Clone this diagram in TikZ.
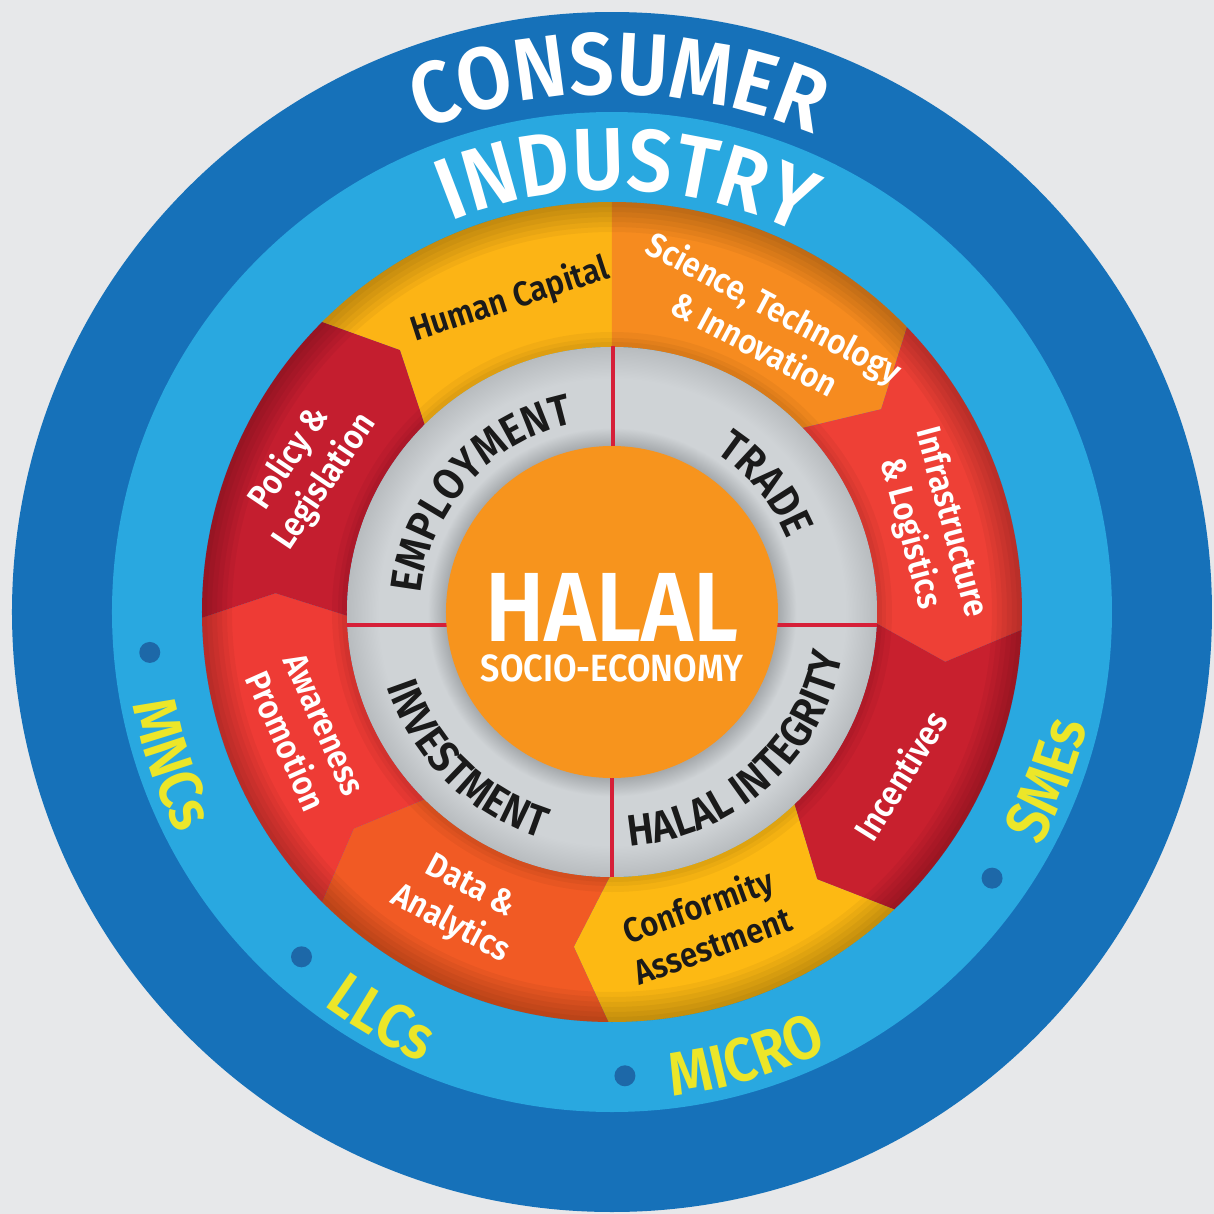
\documentclass[tikz,border=0pt]{standalone}
\usepackage{fontspec}
\setmainfont{Fira Sans}[FakeStretch=0.9,BoldFont={Fira Sans SemiBold}]
\usetikzlibrary{positioning,decorations.text}
\definecolor{BgGray}{HTML}{E7E8EA}
\definecolor{RingDark}{HTML}{1671B9}
\definecolor{RingLight}{HTML}{29A8E0}
\definecolor{DotBlue}{HTML}{1D68A8}
\definecolor{SizeYellow}{HTML}{ECE629}
\definecolor{CoreOrange}{HTML}{F7941D}
\definecolor{HumanYel}{HTML}{FCB415}
\definecolor{SciOrange}{HTML}{F68B1F}
\definecolor{InfraRed}{HTML}{EE4036}
\definecolor{IncRed}{HTML}{C8202E}
\definecolor{ConfYel}{HTML}{FDB913}
\definecolor{DataOrange}{HTML}{F15A24}
\definecolor{AwareRed}{HTML}{EE3B35}
\definecolor{PolicyRed}{HTML}{C41E2F}
\definecolor{GrayDeep}{HTML}{A6AAAD}
\definecolor{GrayLite}{HTML}{CFD3D6}
\definecolor{GrayEdge}{HTML}{B8BCBF}
\definecolor{DivRed}{HTML}{D61F38}
\definecolor{InkBlack}{HTML}{1A1A1A}
\pgfdeclareradialshading{grayring}{\pgfpointorigin}{color(0bp)=(GrayDeep); color(15.7bp)=(GrayDeep); color(17.4bp)=(GrayLite); color(22bp)=(GrayLite); color(25bp)=(GrayEdge); color(50bp)=(GrayEdge)}
\newcommand\ringbig{\fontsize{25}{25}\selectfont\bfseries}
\newcommand\ringsize{\fontsize{17.5}{17.5}\selectfont\bfseries}
\newcommand\ringpillar{\fontsize{12.5}{12.5}\selectfont\bfseries}

\begin{document}
\begin{tikzpicture}[
  seglabel/.style={font=\fontsize{9.8}{12}\selectfont\bfseries,align=center,inner sep=0pt},
  ringtext/.style 2 args={decorate,decoration={text along path,text align=center,text color=#1,text={#2}}}]
\useasboundingbox (-6.12,-6.02) rectangle (6.02,6.12);
\fill[BgGray] (-6.12,-6.02) rectangle (6.02,6.12);
\fill[RingDark] (0,0) circle (6);
\fill[RingLight] (0,0) circle (5);
\foreach \a in {185,228,271.6,325} \fill[DotBlue] (\a:4.64) circle (0.105);
\path[ringtext={white}{|\ringbig|CONSUMER}] (125:5.18) arc[start angle=125,end angle=53.6,radius=5.18];
\path[ringtext={white}{|\ringbig|INDUSTRY}] (124:4.22) arc[start angle=124,end angle=52,radius=4.22];
\path[ringtext={SizeYellow}{|\ringsize|MNCs}] (179:4.88) arc[start angle=179,end angle=219,radius=4.88];
\path[ringtext={SizeYellow}{|\ringsize|LLCs}] (220.5:4.88) arc[start angle=220.5,end angle=260.5,radius=4.88];
\path[ringtext={SizeYellow}{|\ringsize|MICRO}] (266.7:4.88) arc[start angle=266.7,end angle=306.7,radius=4.88];
\path[ringtext={SizeYellow}{|\ringsize|SMEs}] (319:4.88) arc[start angle=319,end angle=359,radius=4.88];
\foreach \a/\b/\ta/\tb/\col in {135/90/6/0/HumanYel,90/44/0/7/SciOrange,44/-2.5/7/6/InfraRed,-2.5/-46.5/6/6/IncRed,-46.5/-90.5/6/6/ConfYel,-90.5/-135/6/5/DataOrange,-135/-179.2/5/4/AwareRed,180.8/135/4/6/PolicyRed}
  \fill[\col] (\a:4.1) arc[start angle=\a,end angle=\b,radius=4.1] -- ({\b-\tb}:3.37) -- (\b:2.65) arc[start angle=\b,end angle=\a,radius=2.65] -- ({\a-\ta}:3.37) -- cycle;
\foreach \r in {3.80,3.85,3.90,3.95,4.00,4.05} \fill[black,opacity=.04,even odd rule] (0,0) circle (4.1) (0,0) circle (\r);
\foreach \r in {2.70,2.74,2.80} \fill[black,opacity=.04,even odd rule] (0,0) circle (\r) (0,0) circle (2.65);
\node[seglabel,text=InkBlack,rotate=18] (hc) at (-1.02,3.12) {Human Capital};
\node[seglabel,text=white,rotate=-28] (sti) at (1.53,2.87) {Science, Technology\\\& Innovation};
\node[seglabel,text=white,rotate=-75] (infra) at (3.18,0.84) {Infrastructure\\\& Logistics};
\node[seglabel,text=white,rotate=58] (incent) at (2.88,-1.63) {Incentives};
\node[seglabel,text=InkBlack,rotate=20] (conf) at (0.93,-3.13) {Conformity\\Assestment};
\node[seglabel,text=white,rotate=-28] (data) at (-1.52,-2.94) {Data \&\\Analytics};
\node[seglabel,text=white,rotate=-66] (aware) at (-3.07,-1.21) {Awareness\\Promotion};
\node[seglabel,text=white,rotate=56] (policy) at (-3.05,1.42) {Policy \&\\Legislation};
\shade[shading=grayring] (0,0) circle (2.65);
\draw[DivRed,line width=1.2pt] (0.01,1.64) -- (0.01,2.66) (0,-1.64) -- (0,-2.65) (-2.65,-0.13) -- (-1.64,-0.13) (1.64,-0.13) -- (2.65,-0.13);
\fill[CoreOrange] (0,0) circle (1.66);
\node[font=\fontsize{28}{28}\selectfont\bfseries,text=white,inner sep=0pt] (halal) at (0,0.05) {HALAL};
\node[font=\fontsize{10.8}{10.8}\selectfont\bfseries,text=white,inner sep=0pt,below=0.12cm of halal] (socio) {SOCIO-ECONOMY};
\path[ringtext={InkBlack}{|\ringpillar|EMPLOYMENT}] (178:1.92) arc[start angle=178,end angle=98,radius=1.92];
\path[ringtext={InkBlack}{|\ringpillar|TRADE}] (79.7:1.90) arc[start angle=79.7,end angle=-0.3,radius=1.90];
\path[ringtext={InkBlack}{|\ringpillar|INVESTMENT}] (180.5:2.37) arc[start angle=180.5,end angle=270.5,radius=2.37];
\path[ringtext={InkBlack}{|\ringpillar|HALAL INTEGRITY}] (266.8:2.35) arc[start angle=266.8,end angle=356.8,radius=2.35];
\end{tikzpicture}
\end{document}
